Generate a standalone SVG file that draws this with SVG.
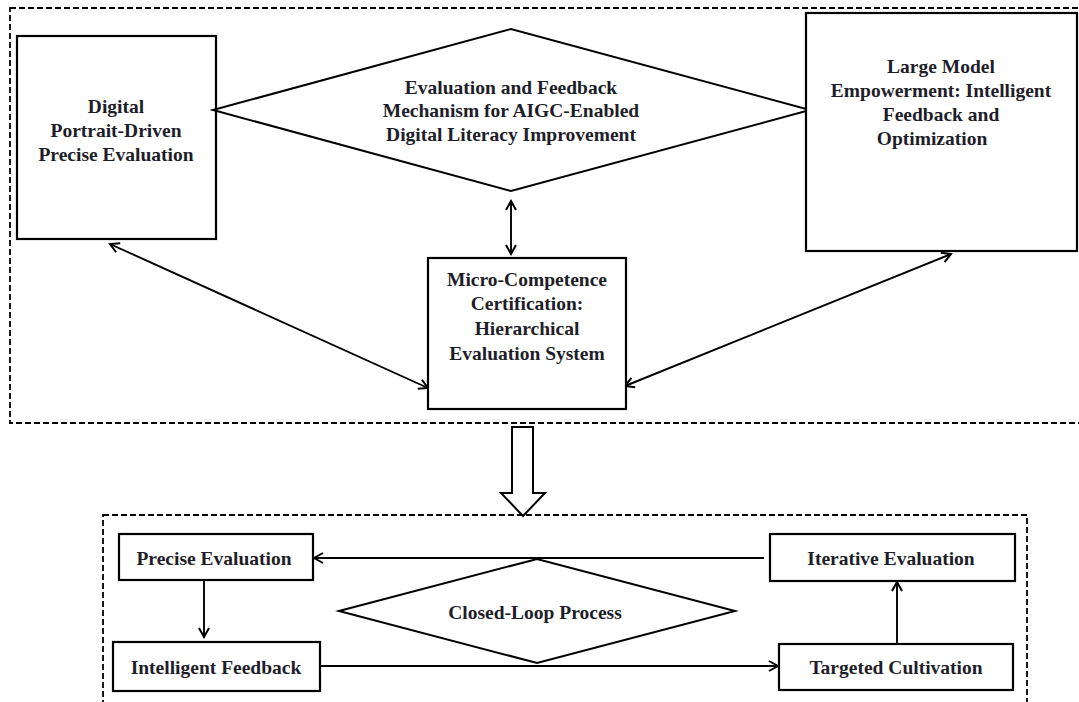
<svg xmlns="http://www.w3.org/2000/svg" width="1079" height="702" viewBox="0 0 1079 702">
<style>
.bg{fill:#fff}
.box{fill:#fff;stroke:#000;stroke-width:2.2}
.dia{fill:#fff;stroke:#000;stroke-width:2}
.dash{fill:none;stroke:#000;stroke-width:1.8;stroke-dasharray:6 3}
.ln{fill:none;stroke:#000;stroke-width:1.9}
.t{font-family:"Liberation Serif","Times New Roman",serif;font-weight:bold;font-size:19.5px;fill:#1e1e28;text-anchor:middle}
</style>
<defs>
<marker id="ah" viewBox="-11 -7 13 14" refX="0" refY="0" markerWidth="13" markerHeight="14" markerUnits="userSpaceOnUse" orient="auto-start-reverse">
<path d="M-9,-5 L0,0 L-9,5" fill="none" stroke="#000" stroke-width="2"/>
</marker>
</defs>
<rect class="bg" x="0" y="0" width="1079" height="702"/>
<g id="frames">
<rect class="dash" x="10" y="8" width="1090" height="415"/>
<rect class="dash" x="103" y="515" width="924" height="220"/>
</g>
<g id="connectors">
<line class="ln" x1="511" y1="201" x2="511" y2="254" marker-start="url(#ah)" marker-end="url(#ah)"/>
<line class="ln" x1="110" y1="244" x2="428" y2="388" marker-start="url(#ah)" marker-end="url(#ah)"/>
<line class="ln" x1="951" y1="254" x2="625" y2="386" marker-start="url(#ah)" marker-end="url(#ah)"/>
<line class="ln" x1="764" y1="558" x2="314" y2="558" marker-end="url(#ah)"/>
<line class="ln" x1="204" y1="580" x2="204" y2="637" marker-end="url(#ah)"/>
<line class="ln" x1="320" y1="666" x2="778" y2="666" marker-end="url(#ah)"/>
<line class="ln" x1="897" y1="643" x2="897" y2="582" marker-end="url(#ah)"/>
<polygon id="big-arrow" points="512,427 533,427 533,493 545,493 523,516 501,493 512,493" fill="#fff" stroke="#000" stroke-width="2"/>
</g>
<g id="left-box">
<rect class="box" x="17" y="36" width="199" height="203"/>
<text class="t" x="116" y="113">Digital</text>
<text class="t" x="116" y="137">Portrait-Driven</text>
<text class="t" x="116" y="161">Precise Evaluation</text>
</g>
<g id="main-diamond">
<polygon class="dia" points="213,110 511,29 810,110 511,191"/>
<text class="t" x="511" y="94">Evaluation and Feedback</text>
<text class="t" x="511" y="117">Mechanism for AIGC-Enabled</text>
<text class="t" x="511" y="141">Digital Literacy Improvement</text>
</g>
<g id="right-box">
<rect class="box" x="806" y="13" width="271" height="238"/>
<text class="t" x="941" y="73">Large Model</text>
<text class="t" x="941" y="97">Empowerment: Intelligent</text>
<text class="t" x="941" y="121">Feedback and</text>
<text class="t" x="932" y="145">Optimization</text>
</g>
<g id="middle-box">
<rect class="box" x="428" y="258" width="198" height="151"/>
<text class="t" x="527" y="286">Micro-Competence</text>
<text class="t" x="527" y="310">Certification:</text>
<text class="t" x="527" y="335">Hierarchical</text>
<text class="t" x="527" y="360">Evaluation System</text>
</g>
<g id="precise-evaluation">
<rect class="box" x="119" y="534" width="194" height="46"/>
<text class="t" x="214" y="565">Precise Evaluation</text>
</g>
<g id="intelligent-feedback">
<rect class="box" x="113" y="642" width="207" height="49"/>
<text class="t" x="216" y="674">Intelligent Feedback</text>
</g>
<g id="iterative-evaluation">
<rect class="box" x="770" y="534" width="245" height="47"/>
<text class="t" x="891" y="565">Iterative Evaluation</text>
</g>
<g id="targeted-cultivation">
<rect class="box" x="779" y="644" width="234" height="46"/>
<text class="t" x="896" y="674">Targeted Cultivation</text>
</g>
<g id="closed-loop">
<polygon class="dia" points="339,611 537,559 735,611 537,663"/>
<text class="t" x="535" y="619">Closed-Loop Process</text>
</g>
</svg>
